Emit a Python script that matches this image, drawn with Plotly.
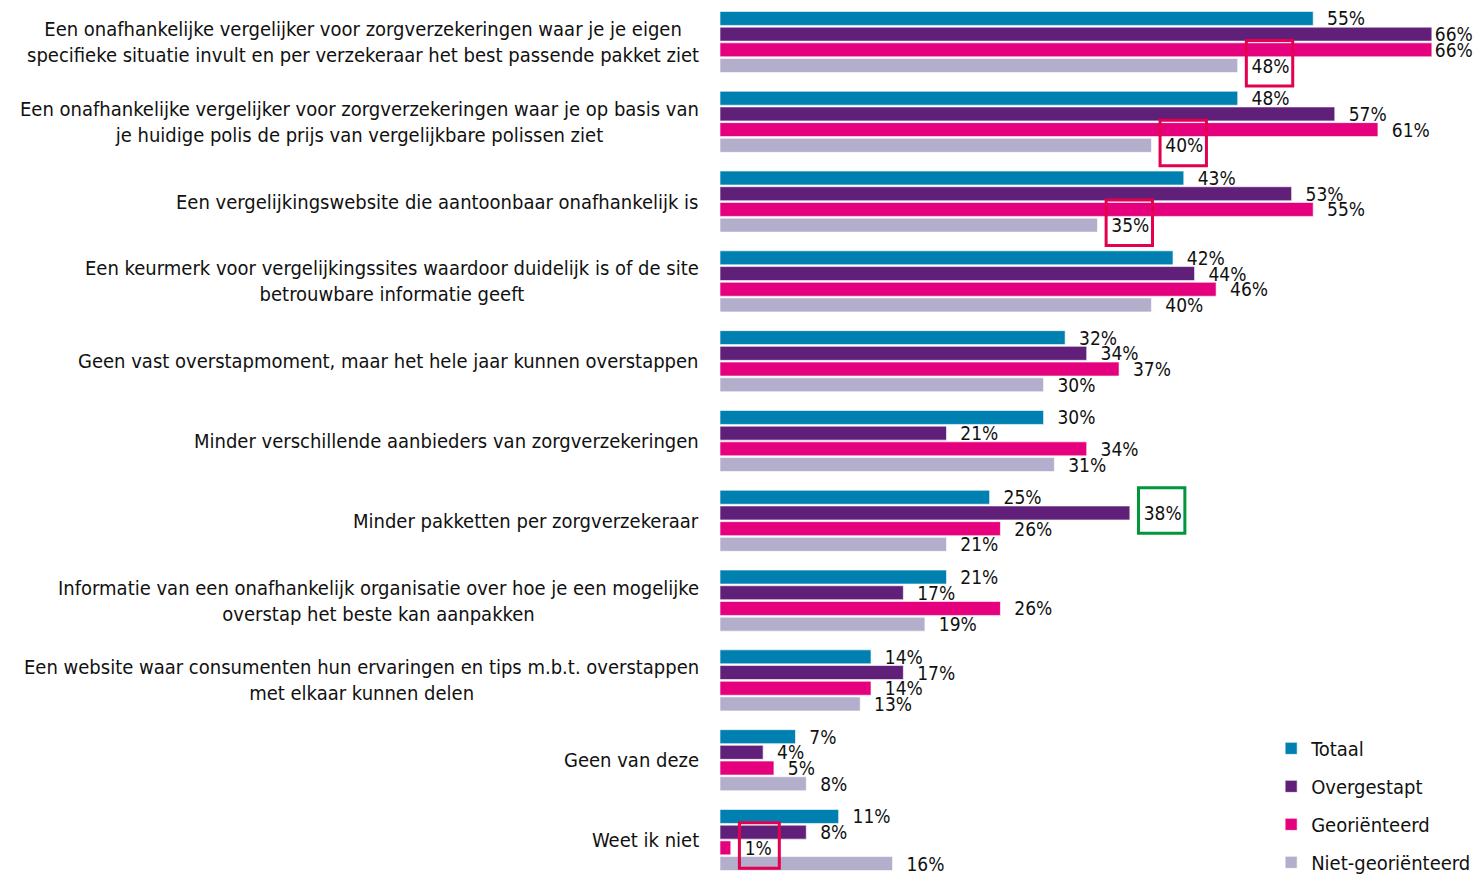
import plotly.graph_objects as go

categories = [
    "Een onafhankelijke vergelijker voor zorgverzekeringen waar je je eigen<br>specifieke situatie invult en per verzekeraar het best passende pakket ziet",
    "Een onafhankelijke vergelijker voor zorgverzekeringen waar je op basis van<br>je huidige polis de prijs van vergelijkbare polissen ziet",
    "Een vergelijkingswebsite die aantoonbaar onafhankelijk is",
    "Een keurmerk voor vergelijkingssites waardoor duidelijk is of de site<br>betrouwbare informatie geeft",
    "Geen vast overstapmoment, maar het hele jaar kunnen overstappen",
    "Minder verschillende aanbieders van zorgverzekeringen",
    "Minder pakketten per zorgverzekeraar",
    "Informatie van een onafhankelijk organisatie over hoe je een mogelijke<br>overstap het beste kan aanpakken",
    "Een website waar consumenten hun ervaringen en tips m.b.t. overstappen<br>met elkaar kunnen delen",
    "Geen van deze",
    "Weet ik niet",
]

totaal = [55, 48, 43, 42, 32, 30, 25, 21, 14, 7, 11]
overgestapt = [66, 57, 53, 44, 34, 21, 38, 17, 17, 4, 8]
georienteerd = [66, 61, 55, 46, 37, 34, 26, 26, 14, 5, 1]
niet_georienteerd = [48, 40, 35, 40, 30, 31, 21, 19, 13, 8, 16]

series_names = ["Totaal", "Overgestapt", "Georiënteerd", "Niet-georiënteerd"]
series_values = [totaal, overgestapt, georienteerd, niet_georienteerd]
series_colors = ["#0080B0", "#60207A", "#E5007D", "#B2AECB"]

# highlighted labels: (category index, series index, box colour)
highlights = [
    (0, 3, "#E4004F"),
    (1, 3, "#E4004F"),
    (2, 3, "#E4004F"),
    (10, 2, "#E4004F"),
    (6, 1, "#00963A"),
]

FONT = "DejaVu Sans Condensed, DejaVu Sans, sans-serif"
XMAX = 70.0


def label(v):
    pad = "" if v > 62 else "\u00a0\u00a0"
    return f"{pad}{v}%"


fig = go.Figure()
ids = list(range(len(categories)))
for name, vals, col in zip(series_names, series_values, series_colors):
    fig.add_trace(go.Bar(
        name=name, y=ids, x=vals, orientation="h",
        marker=dict(color=col, line=dict(color="white", width=0.6)),
        text=[label(v) for v in vals], textposition="outside",
        constraintext="none", cliponaxis=False,
        textfont=dict(family=FONT, size=19, color="#111111"),
        legendgroup=name, hoverinfo="skip",
    ))

annotations = []
for i, c in enumerate(categories):
    annotations.append(dict(
        x=0, y=i, xref="x", yref="y", text=c, showarrow=False,
        xanchor="right", yanchor="middle", align="center", xshift=-19,
        font=dict(family=FONT, size=20, color="#111111"),
    ))

pitch = 0.197
shapes = []
for ci, si, col in highlights:
    v = series_values[si][ci]
    txt = f"{v}%"
    w = 0.6 * len(txt) + 2.5
    yc = ci + (si - 1.5) * pitch - 0.03
    shapes.append(dict(
        type="rect", xref="x", yref="y",
        x0=v + 0.8, x1=v + 0.8 + w, y0=yc - 0.285, y1=yc + 0.285,
        line=dict(color=col, width=3), fillcolor="rgba(0,0,0,0)",
    ))

fig.update_layout(
    width=1475, height=874,
    margin=dict(l=720, r=0, t=0, b=0, autoexpand=False),
    paper_bgcolor="white", plot_bgcolor="white",
    barmode="group", bargap=0.213, bargroupgap=0.11,
    xaxis=dict(range=[0, XMAX], showticklabels=False, showgrid=False,
               zeroline=False, showline=False, ticks=""),
    yaxis=dict(range=[10.426, -0.526], showticklabels=False, showgrid=False,
               zeroline=False, showline=False, ticks="", tickvals=ids),
    annotations=annotations,
    shapes=shapes,
    showlegend=True,
    legend=dict(x=0.73, xanchor="left", y=-0.009, yanchor="bottom",
                traceorder="grouped", tracegroupgap=9,
                font=dict(family=FONT, size=20, color="#111111"),
                bgcolor="rgba(0,0,0,0)"),
    font=dict(family=FONT),
)

fig.write_html("out.html", config={"displayModeBar": False},
               post_script="document.body.style.margin='0';")
